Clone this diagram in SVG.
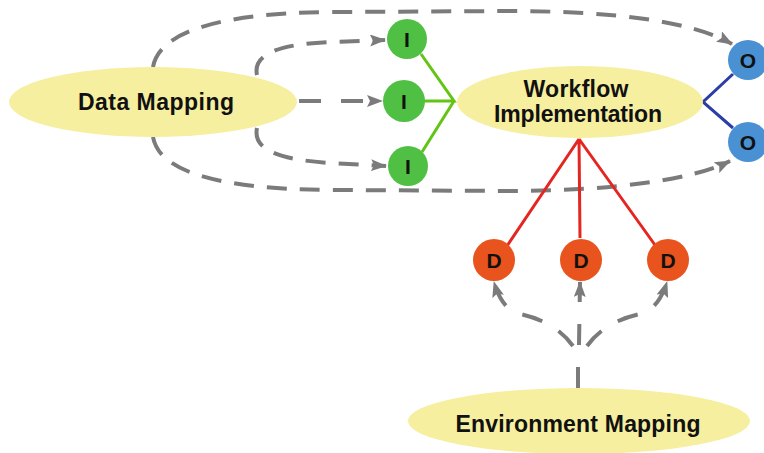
<svg xmlns="http://www.w3.org/2000/svg" width="764" height="453" viewBox="0 0 764 453">
  <defs>
    <marker id="arrow" viewBox="0 0 16 12" refX="15" refY="6" markerWidth="16" markerHeight="12" markerUnits="userSpaceOnUse" orient="auto">
      <path d="M0,0 L16,6 L0,12 L3,6 Z" fill="#7b7b7b"/>
    </marker>
    <style>
      .ell { fill: #f6ef9f; }
      .lbl { font-family: "Liberation Sans", Arial, sans-serif; font-weight: bold; font-size: 23px; fill: #111; text-anchor: middle; }
      .nl { font-family: "Liberation Sans", Arial, sans-serif; font-weight: bold; font-size: 21px; fill: #111; text-anchor: middle; }
      .in { fill: #4fc043; }
      .out { fill: #4a91d3; }
      .dep { fill: #e9531d; }
      .dash { fill: none; stroke: #7b7b7b; stroke-width: 4; stroke-dasharray: 20 13; }
      .arr { marker-end: url(#arrow); }
      .g { stroke: #62c414; stroke-width: 3; fill: none; }
      .b { stroke: #2b3da6; stroke-width: 3; fill: none; }
      .r { stroke: #e52520; stroke-width: 3; fill: none; }
    </style>
  </defs>

  <!-- connectors -->
  <g id="connectors">
    <!-- data mapping to inputs / outputs -->
    <path class="dash arr" d="M153,67 C160,28 232,13 330,12 L520,11 C610,12 690,20 732,44"/>
    <path class="dash arr" d="M153,137 C160,176 232,189 330,190 L520,191 C610,190 690,181 730,161"/>
    <path class="dash arr" d="M257,75 C252,52 285,44 330,42 L385,40"/>
    <path class="dash arr" d="M257,128 C252,152 285,160 330,163 L386,166"/>
    <path class="dash arr" style="stroke-dasharray:22 20" d="M299,101 L382,101"/>
    <!-- environment mapping to deployment nodes: a short stem, then three branches -->
    <path class="dash" style="stroke-dasharray:none" d="M578,388 L578,367"/>
    <path class="dash arr" style="stroke-dasharray:21 19" d="M573,346 Q556,322 520,314 Q502,310 494,282"/>
    <path class="dash arr" style="stroke-dasharray:21 22" d="M579,345 L580,282"/>
    <path class="dash arr" style="stroke-dasharray:21 19" d="M587,346 Q604,322 640,314 Q658,310 667,282"/>
    <!-- solid links -->
    <path class="g" d="M421,54 L454,101 L424,101 M454,101 L422,152"/>
    <path class="b" d="M733,74 L703,102 L733,128"/>
    <path class="r" d="M579,139 L507,246 M579,139 L580,238 M579,139 L655,245"/>
  </g>

  <g id="data-mapping">
    <ellipse class="ell" cx="153" cy="102" rx="144" ry="35"/>
    <text class="lbl" x="156" y="110" textLength="156" lengthAdjust="spacing">Data Mapping</text>
  </g>

  <g id="workflow-implementation">
    <ellipse class="ell" cx="580" cy="102" rx="123" ry="36"/>
    <text class="lbl" x="576" y="97" textLength="105" lengthAdjust="spacing">Workflow</text>
    <text class="lbl" x="578" y="122" textLength="168" lengthAdjust="spacing">Implementation</text>
  </g>

  <g id="environment-mapping">
    <ellipse class="ell" cx="579" cy="421" rx="171" ry="33"/>
    <text class="lbl" x="578" y="432" textLength="245" lengthAdjust="spacing">Environment Mapping</text>
  </g>

  <g id="input-1"><circle class="in" cx="407" cy="39" r="20"/><text class="nl" x="407" y="47">I</text></g>
  <g id="input-2"><circle class="in" cx="404" cy="101" r="21"/><text class="nl" x="404" y="109">I</text></g>
  <g id="input-3"><circle class="in" cx="408" cy="166" r="20"/><text class="nl" x="408" y="174">I</text></g>

  <g id="output-1"><circle class="out" cx="748" cy="60" r="20"/><text class="nl" x="748" y="68">O</text></g>
  <g id="output-2"><circle class="out" cx="748" cy="142" r="20"/><text class="nl" x="748" y="150">O</text></g>

  <g id="deploy-1"><circle class="dep" cx="494" cy="260" r="21"/><text class="nl" x="494" y="268">D</text></g>
  <g id="deploy-2"><circle class="dep" cx="581" cy="260" r="21"/><text class="nl" x="581" y="268">D</text></g>
  <g id="deploy-3"><circle class="dep" cx="668" cy="260" r="21"/><text class="nl" x="668" y="268">D</text></g>
</svg>
